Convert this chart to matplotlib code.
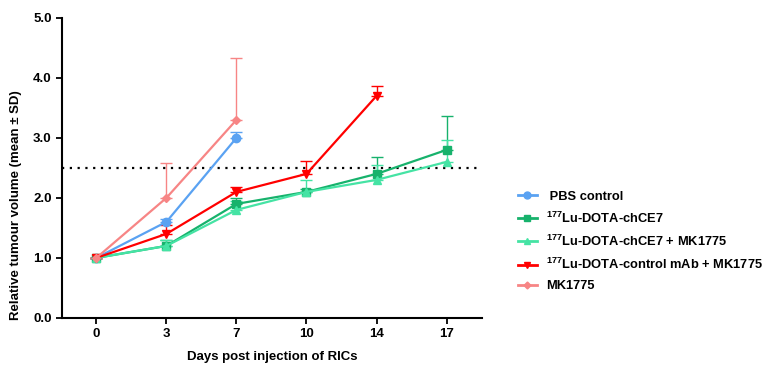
import numpy as np
import matplotlib.pyplot as plt
from matplotlib.lines import Line2D

plt.rcParams['font.family'] = ['Liberation Sans', 'DejaVu Sans']
plt.rcParams['font.weight'] = 'bold'
plt.rcParams['mathtext.fontset'] = 'custom'
plt.rcParams['mathtext.bf'] = 'Liberation Sans:bold'
plt.rcParams['mathtext.rm'] = 'Liberation Sans:bold'
plt.rcParams['mathtext.default'] = 'bf'

# days (categorical on x axis)
days = ['0', '3', '7', '10', '14', '17']

pbs = [1.0, 1.6, 3.0]
pbs_sd = [0.0, 0.05, 0.09]

chce7 = [1.0, 1.2, 1.9, 2.1, 2.4, 2.8]
chce7_sd = [0.0, 0.1, 0.1, 0.05, 0.28, 0.57]

chce7_mk = [1.0, 1.2, 1.8, 2.1, 2.3, 2.6]
chce7_mk_sd = [0.0, 0.1, 0.15, 0.2, 0.24, 0.37]

ctrl_mk = [1.0, 1.4, 2.1, 2.4, 3.7]
ctrl_mk_sd = [0.0, 0.15, 0.08, 0.22, 0.17]

mk1775 = [1.0, 2.0, 3.3]
mk1775_sd = [0.0, 0.58, 1.03]

labels = [' PBS control',
          r'$^{177}$Lu-DOTA-chCE7',
          r'$^{177}$Lu-DOTA-chCE7 + MK1775',
          r'$^{177}$Lu-DOTA-control mAb + MK1775',
          'MK1775']

series = [
    (pbs, pbs_sd, '#5aa2f2', 'o'),
    (chce7, chce7_sd, '#17b26c', 's'),
    (chce7_mk, chce7_mk_sd, '#45e3a4', '^'),
    (ctrl_mk, ctrl_mk_sd, '#ff0000', 'v'),
    (mk1775, mk1775_sd, '#f78585', 'D'),
]

fig = plt.figure(figsize=(7.7, 3.65), dpi=100)
ax = fig.add_axes([0.0805, 0.129, 0.545, 0.822])

handles = []
for (vals, sd, col, mk), lab in zip(series, labels):
    x = np.arange(len(vals))
    ms = 6 if mk != 'D' else 4.5
    ax.errorbar(x, vals, yerr=[np.zeros(len(sd)), sd], color=col,
                marker=mk, markersize=ms,
                linewidth=1.6, elinewidth=1.0, capsize=4, capthick=1.0)
    handles.append(Line2D([], [], color=col, marker=mk, markersize=ms - 1,
                          linewidth=2))

ax.axhline(2.5, color='black', linestyle=(0, (1, 2.5)), linewidth=1.6)

ax.set_xlim(-0.49, 5.5)
ax.set_ylim(0, 5)
ax.set_xticks(np.arange(len(days)))
ax.set_xticklabels(days)
ax.set_yticks(np.arange(0, 5.1, 1.0))
ax.set_yticklabels(['%.1f' % v for v in np.arange(0, 5.1, 1.0)])
ax.tick_params(labelsize=9.5, width=1.3, length=4)
for s in ['top', 'right']:
    ax.spines[s].set_visible(False)
for s in ['left', 'bottom']:
    ax.spines[s].set_linewidth(1.5)

ax.set_xlabel('Days post injection of RICs', fontsize=9.5, fontweight='bold', labelpad=8)
ax.set_ylabel('Relative tumour volume (mean \u00b1 SD)', fontsize=9.5, fontweight='bold')
ax.yaxis.set_label_coords(-0.095, 0.377)

leg = fig.legend(handles=handles, labels=labels, loc='upper left',
                 bbox_to_anchor=(0.657, 0.51), frameon=False, fontsize=9.3,
                 handlelength=1.5, labelspacing=0.62, handletextpad=0.7)

fig.savefig('out.png', dpi=100)
